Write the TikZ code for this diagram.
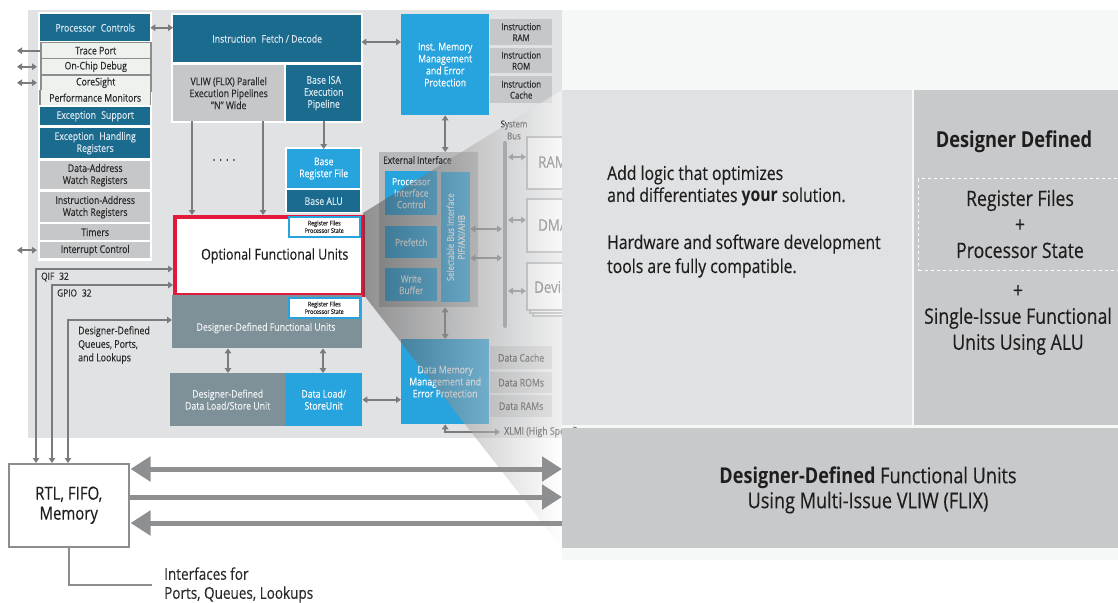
\documentclass[tikz,border=0pt]{standalone}
\usepackage{fontspec}
\setmainfont{Open Sans}[FakeStretch=0.83, UprightFeatures={FakeBold=0.3}]
\usetikzlibrary{arrows.meta}
\newcommand\fsz[2]{\fontsize{#1}{#2}\selectfont}
\newcommand\bx[7]{\node[#6,minimum width=#4pt,minimum height=#5pt] (#1) at (#2,#3) {#7};}
\definecolor{bgc}{HTML}{E1E2E4}
\definecolor{palec}{HTML}{F6F7F7}
\definecolor{tealc}{HTML}{1B6B8F}
\definecolor{tealt}{HTML}{DCE8EF}
\definecolor{bluec}{HTML}{27A3DD}
\definecolor{grayc}{HTML}{C6C7C9}
\definecolor{darkt}{HTML}{2A2A2A}
\definecolor{slatec}{HTML}{7E9098}
\definecolor{slatet}{HTML}{EEF2F4}
\definecolor{lightc}{HTML}{EEF2EF}
\definecolor{edgec}{HTML}{8C8D8F}
\definecolor{redc}{HTML}{E3193B}
\definecolor{extc}{HTML}{B8B9BB}
\definecolor{memfill}{HTML}{F4F4F4}
\definecolor{memedge}{HTML}{A3A4A6}
\definecolor{busc}{HTML}{8A8B8D}
\definecolor{arrc}{HTML}{7A7B7D}
\definecolor{bigc}{HTML}{8E8F91}
\definecolor{panelc}{HTML}{E0E1E3}
\definecolor{panelb}{HTML}{C8C9CB}
\definecolor{medt}{HTML}{555555}
\definecolor{blackt}{HTML}{1E1E1E}
\begin{document}
\begin{tikzpicture}[x=1pt,y=-1pt,
  bx/.style={anchor=north west, inner sep=1pt, align=center, font=\fsz{10.5}{12}},
  tealb/.style={bx, fill=tealc, text=tealt},
  blueb/.style={bx, fill=bluec, text=white},
  grayb/.style={bx, fill=grayc, text=darkt},
  slateb/.style={bx, fill=slatec, text=slatet},
  lightb/.style={bx, fill=lightc, draw=edgec, line width=1.5pt, text=darkt},
  whiteb/.style={anchor=north west, fill=white, inner sep=0pt},
  regb/.style={bx, fill=white, draw=bluec, line width=1.5pt, text=darkt, font=\fsz{6.5}{7.5}},
  memb/.style={bx, fill=memfill, draw=memedge, line width=1.5pt},
  lbl/.style={inner sep=0pt, text=darkt},
  ar/.style={draw=arrc, line width=2pt, -{Triangle[length=5pt,width=6.5pt]}},
  dar/.style={draw=arrc, line width=2pt, {Triangle[length=5pt,width=6.5pt]}-{Triangle[length=5pt,width=6.5pt]}},
  big/.style={draw=bigc, line width=5pt},
  bigtip/.tip={Triangle[length=20pt,width=24pt]}
]
\useasboundingbox (0,0) rectangle (1118,602);
% backgrounds
\path[fill=bgc] (28,10) rectangle (562,438);
\path[fill=palec] (562,10) rectangle (1118,560);

% left column
\node[whiteb, minimum width=114pt, minimum height=249pt] (lcol) at (38,12) {};
\bx{pc}{40}{14}{110}{27}{tealb}{Processor\enspace Controls}
\bx{tp}{40}{42}{110}{16}{lightb}{Trace Port}
\bx{ocd}{40}{58}{110}{16}{lightb}{On-Chip Debug}
\bx{cs}{40}{74}{110}{16}{lightb}{CoreSight}
\bx{pm}{40}{90}{110}{15}{bx, fill=lightc, text=darkt}{Performance Monitors}
\draw[draw=edgec, line width=1.5pt] (pm.north west) -- (pm.south west) (pm.north east) -- (pm.south east);
\bx{es}{40}{107}{110}{18}{tealb}{Exception\enspace Support}
\bx{ehr}{40}{128}{110}{30}{tealb}{Exception\enspace Handling\\Registers}
\bx{daw}{40}{161}{110}{28}{grayb}{Data-Address\\Watch Registers}
\bx{iaw}{40}{192}{110}{30}{grayb}{Instruction-Address\\Watch Registers}
\bx{tim}{40}{224}{110}{16}{grayb}{Timers}
\bx{ic}{40}{242}{110}{16}{grayb}{Interrupt Control}

\coordinate (lo) at (17,0);
\coordinate (li) at (37,0);
\draw[ar] (tp.west) -- (tp.west -| lo);
\draw[dar] (ocd.west -| li) -- (ocd.west -| lo);
\draw[dar] (cs.west -| li) -- (cs.west -| lo);
\draw[dar] (ic.west -| li) -- (ic.west -| lo);

% fetch group
\node[whiteb, minimum width=192pt, minimum height=110pt] (fg) at (171,13) {};
\bx{ifd}{173}{15}{188}{47}{tealb}{Instruction\enspace Fetch / Decode}
\bx{vliw}{173}{65}{111}{56}{grayb}{VLIW (FLIX) Parallel\\Execution Pipelines\\"N" Wide}
\bx{bisa}{286}{65}{75}{56}{tealb}{Base ISA\\Execution\\Pipeline}
\draw[dar] (pc.east) -- (ifd.west |- pc.east);

% base group
\node[whiteb, minimum width=77pt, minimum height=66pt] (bgp) at (285,147) {};
\bx{brf}{287}{149}{73}{39}{blueb}{Base\\Register File}
\bx{balu}{287}{190}{73}{22}{tealb}{Base ALU}
\draw[ar] (bisa.south) -- (brf.north);

% optional functional units
\bx{ofu}{173}{215}{188}{78}{bx, fill=white, draw=redc, line width=3.5pt, font=\fsz{15}{18}, text=blackt}{\hspace*{12pt}Optional Functional Units}
\bx{rf1}{288}{216}{71}{20}{regb}{Register Files\\Processor State}
\coordinate (vx1) at (192,0);
\coordinate (vx2) at (263,0);
\draw[ar] (vliw.south -| vx1) -- (ofu.north -| vx1);
\draw[ar] (vliw.south -| vx2) -- (ofu.north -| vx2);
\node[lbl, font=\fsz{12}{14}] (dots) at (224,160) {.\,\,.\,\,.\,\,.};

\bx{ddfu}{172}{295}{190}{53}{slateb}{}
\node[lbl, text=slatet, font=\fsz{10.5}{12}] (ddfut) at (266,328) {Designer-Defined Functional Units};
\bx{rf2}{288}{297}{71}{20}{regb}{Register Files\\Processor State}
\bx{ddls}{170}{373}{115}{53}{slateb}{Designer-Defined\\Data Load/Store Unit}
\bx{dls}{285}{373}{77}{53}{blueb}{Data Load/\\StoreUnit}
\coordinate (dx1) at (228,0);
\coordinate (dx2) at (323,0);
\draw[dar] (ddfu.south -| dx1) -- (ddls.north -| dx1);
\draw[dar] (ddfu.south -| dx2) -- (dls.north -| dx2);

% instruction memory
\bx{imm}{401}{14}{88}{101}{blueb}{Inst. Memory\\Management\\and Error\\Protection}
\coordinate (fy) at (0,42);
\draw[dar] (ifd.east |- fy) -- (imm.west |- fy);
\bx{iram}{490}{19}{62}{26}{grayb, font=\fsz{9.5}{11}}{Instruction\\RAM}
\bx{irom}{490}{48}{62}{25}{grayb, font=\fsz{9.5}{11}}{Instruction\\ROM}
\bx{icache}{490}{76}{62}{27}{grayb, font=\fsz{9.5}{11}}{Instruction\\Cache}

% external interface
\bx{ext}{379}{152}{99}{155}{bx, fill=extc}{}
\node[lbl, anchor=west, font=\fsz{10}{12}] (extl) at (383,160) {External Interface};
\bx{pic}{385}{171}{52}{44}{blueb, font=\fsz{10}{11.5}}{Processor\\Interface\\Control}
\bx{pf}{385}{226}{52}{32}{blueb, font=\fsz{10}{11.5}}{Prefetch}
\bx{wb}{385}{268}{52}{33}{blueb, font=\fsz{10}{11.5}}{Write\\Buffer}
\bx{sbi}{441}{172}{29}{130}{blueb}{}
\node[lbl, text=white, rotate=90, align=center, font=\fsz{9.5}{11}] (sbit) at (sbi.center) {Selectable Bus Interface\\PIF/AXI/AHB};
\draw[dar] (imm.south) -- (ext.north -| imm.south);

% data memory
\bx{dmm}{401}{339}{88}{85}{blueb}{Data Memory\\Management and\\Error Protection}
\draw[dar] (ext.south -| dmm.north) -- (dmm.north);
\draw[dar] (dls.east) -- (dmm.west |- dls.east);
\bx{dc}{490}{346}{62}{23}{grayb}{Data Cache}
\bx{drom}{490}{372}{62}{21}{grayb}{Data ROMs}
\bx{dram}{490}{395}{62}{22}{grayb}{Data RAMs}
\coordinate (xl) at (500,432);
\draw[dar] (dmm.south) |- (xl);
\node[lbl, anchor=west, font=\fsz{10.5}{12}] (xlt) at (504,432) {XLMI (High Speed)};

% system bus
\bx{ram}{526}{136}{70}{52}{memb}{}
\bx{dma}{526}{198}{70}{53}{memb}{}
\bx{dev3}{532}{268}{70}{47}{memb}{}
\bx{dev2}{529}{265}{70}{47}{memb}{}
\bx{dev}{526}{262}{70}{47}{memb}{}
\node[lbl, anchor=west, font=\fsz{16}{18}, text=medt] (ramt) at (538,162) {RAM};
\node[lbl, anchor=west, font=\fsz{16}{18}, text=medt] (dmat) at (538,225) {DMA};
\node[lbl, anchor=west, font=\fsz{16}{18}, text=medt] (devt) at (534,287) {Device};
\coordinate (bt) at (505,143);
\coordinate (bb) at (505,326);
\coordinate (bxr) at (508,0);
\coordinate (bxl) at (502,0);
\coordinate (r1) at (0,157);
\coordinate (r2) at (0,220);
\coordinate (r3) at (0,291);
\coordinate (s1) at (0,229);
\coordinate (s2) at (0,258);
\draw[dar] (bxr |- r1) -- (ram.west |- r1);
\draw[dar] (bxr |- r2) -- (dma.west |- r2);
\draw[dar] (bxr |- r3) -- (dev.west |- r3);
\draw[dar] (sbi.east |- s1) -- (bxl |- s1);
\draw[dar] (sbi.east |- s2) -- (bxl |- s2);
\draw[draw=busc, line width=4pt, line cap=round] (bt) -- (bb);
\node[lbl, align=center, font=\fsz{9.5}{12}] (sysl) at (514,130) {System\\Bus};

% zoom overlay
\shade[left color=black!75, right color=white, fill opacity=0.5] (363,213) -- (562,90) -- (562,548) -- (363,294) -- cycle;

% right panels
\bx{rp1}{562}{90}{350}{335}{bx, fill=panelc}{}
\bx{rp2}{914}{90}{204}{335}{bx, fill=panelb}{}
\bx{bp}{562}{428}{556}{120}{bx, fill=panelb}{}
\node[lbl, text=blackt, anchor=west, align=left, font=\fsz{19}{22}] (t1) at (607,186) {Add logic that optimizes\\and differentiates \textbf{your} solution.};
\node[lbl, text=blackt, anchor=west, align=left, font=\fsz{19}{24}] (t2) at (607,256) {Hardware and software development\\tools are fully compatible.};
\node[lbl, text=blackt, font=\bfseries\fsz{22}{24}] (ddh) at (1014,142) {Designer Defined};
\node[draw=white, dashed, line width=1pt, anchor=north west, minimum width=200pt, minimum height=92pt, inner sep=0pt] (dash) at (918,178) {};
\node[lbl, text=blackt, align=center, font=\fsz{21.3}{26}] (rft) at (1020,224) {Register Files\\+\\Processor State};
\node[lbl, text=blackt, align=center, font=\fsz{21.3}{26}] (sit) at (1018,320) {+\\Single-Issue Functional\\Units Using ALU};
\node[lbl, text=blackt, align=center, font=\fsz{21.8}{25}] (bpt) at (868,490) {\textbf{Designer-Defined} Functional Units\\Using Multi-Issue VLIW (FLIX)};

% RTL block
\bx{rtl}{8}{463}{120}{83}{bx, fill=white, draw=edgec, line width=1.5pt, font=\fsz{18}{20}, text=blackt}{RTL, FIFO,\\Memory}
\coordinate (q1) at (36,269);
\coordinate (q2) at (52,285);
\coordinate (q3) at (68,320);
\draw[dar] (rtl.north -| q1) |- (ofu.west |- q1);
\draw[dar] (rtl.north -| q2) |- (ofu.west |- q2);
\draw[dar] (rtl.north -| q3) |- (ddfu.west |- q3);
\node[lbl, anchor=west, font=\fsz{10}{12}] (qifl) at (41,277) {QIF\enspace 32};
\node[lbl, anchor=west, font=\fsz{10}{12}] (gpl) at (57,293) {GPIO\enspace 32};
\node[lbl, anchor=north west, align=left, font=\fsz{10.6}{13.5}] (ddql) at (78,326) {Designer-Defined\\Queues, Ports,\\and Lookups};

\coordinate (a1) at (0,469);
\coordinate (a2) at (0,497);
\coordinate (a3) at (0,523);
\draw[big, bigtip-bigtip] ([xshift=1pt]rtl.east |- a1) -- (bp.west |- a1);
\draw[big, -bigtip] (rtl.east |- a2) -- (bp.west |- a2);
\draw[big, bigtip-] ([xshift=1pt]rtl.east |- a3) -- (bp.west |- a3);

\coordinate (ib) at (152,585);
\draw[draw=edgec, line width=1.5pt] (rtl.south) |- (ib);
\node[lbl, anchor=west, align=left, font=\fsz{16.3}{19}] (ifl) at (164,585) {Interfaces for\\Ports, Queues, Lookups};
\end{tikzpicture}
\end{document}
